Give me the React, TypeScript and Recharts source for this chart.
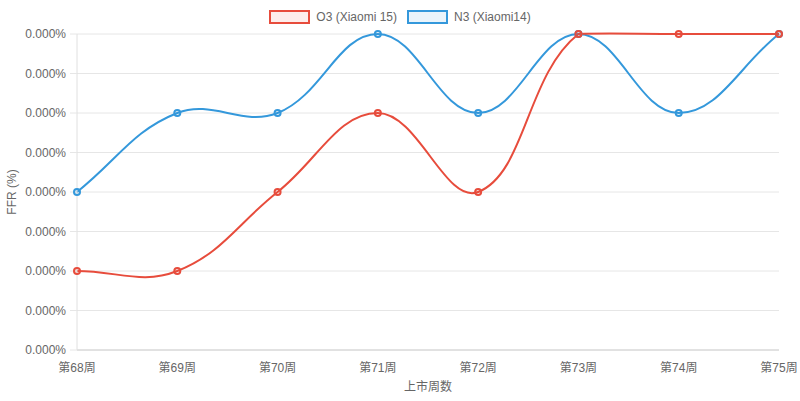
import React from 'react'
import { LineChart, Line, XAxis, YAxis, CartesianGrid, Legend, Label } from 'recharts'

// weeks since launch
const weeks = ['第68周', '第69周', '第70周', '第71周', '第72周', '第73周', '第74周', '第75周']

// FFR in percent (tiny values, all ticks round to 0.000%)
const o3Values = [0.0001, 0.0001, 0.0002, 0.0003, 0.0002, 0.0004, 0.0004, 0.0004]
const n3Values = [0.0002, 0.0003, 0.0003, 0.0004, 0.0003, 0.0004, 0.0003, 0.0004]

const yTicks = [0, 0.00005, 0.0001, 0.00015, 0.0002, 0.00025, 0.0003, 0.00035, 0.0004]

const RED = '#e74c3c'
const BLUE = '#3498db'
const FONT = '"Liberation Sans", Arial, Helvetica, "Noto Sans CJK SC", sans-serif'

// plot area bounds, used to cap the spline control points like Chart.js does
const PLOT_TOP = 33
const PLOT_BOTTOM = 350

const data = weeks.map((week, i) => ({ week, o3: o3Values[i], n3: n3Values[i] }))

// Chart.js-style spline (tension 0.4) as a d3 curve factory
const splineCurve = (tension: number, top: number, bottom: number) => (context: any) => {
  let pts: [number, number][] = []
  const cap = (y: number) => Math.min(bottom, Math.max(top, y))
  return {
    areaStart() {},
    areaEnd() {},
    lineStart() {
      pts = []
    },
    point(x: number, y: number) {
      pts.push([x, y])
    },
    lineEnd() {
      if (!pts.length) return
      const cps = pts.map((p, i) => {
        const prev = pts[i - 1] || p
        const next = pts[i + 1] || p
        const d01 = Math.hypot(p[0] - prev[0], p[1] - prev[1])
        const d12 = Math.hypot(next[0] - p[0], next[1] - p[1])
        let s01 = d01 / (d01 + d12)
        let s12 = d12 / (d01 + d12)
        if (isNaN(s01)) s01 = 0
        if (isNaN(s12)) s12 = 0
        const fa = tension * s01
        const fb = tension * s12
        return {
          px: p[0] - fa * (next[0] - prev[0]),
          py: cap(p[1] - fa * (next[1] - prev[1])),
          nx: p[0] + fb * (next[0] - prev[0]),
          ny: cap(p[1] + fb * (next[1] - prev[1])),
        }
      })
      context.moveTo(pts[0][0], pts[0][1])
      for (let i = 1; i < pts.length; i++) {
        context.bezierCurveTo(cps[i - 1].nx, cps[i - 1].ny, cps[i].px, cps[i].py, pts[i][0], pts[i][1])
      }
    },
  }
}

const curve = splineCurve(0.4, PLOT_TOP, PLOT_BOTTOM)

const legendItems = [
  { name: 'O3 (Xiaomi 15)', color: RED, fill: 'rgba(231, 76, 60, 0.1)' },
  { name: 'N3 (Xiaomi14)', color: BLUE, fill: 'rgba(52, 152, 219, 0.1)' },
]

const ChartLegend = () => (
  <div style={{ display: 'flex', justifyContent: 'center', gap: 10, fontSize: 12, color: '#666' }}>
    {legendItems.map((item) => (
      <div key={item.name} style={{ display: 'flex', alignItems: 'center' }}>
        <span
          style={{
            display: 'inline-block',
            width: 37,
            height: 10,
            border: `2px solid ${item.color}`,
            background: item.fill,
            marginRight: 6,
          }}
        />
        <span>{item.name}</span>
      </div>
    ))}
  </div>
)

const YTitle = ({ viewBox }: any) => (
  <text
    x={13}
    y={viewBox.y + viewBox.height / 2}
    transform={`rotate(-90, 13, ${viewBox.y + viewBox.height / 2})`}
    textAnchor="middle"
    dominantBaseline="middle"
    fontSize={12}
    fill="#666"
  >
    FFR (%)
  </text>
)

const XTitle = ({ viewBox }: any) => (
  <text
    x={viewBox.x + viewBox.width / 2}
    y={388}
    textAnchor="middle"
    dominantBaseline="middle"
    fontSize={12}
    fill="#666"
  >
    上市周数
  </text>
)

export default function App() {
  return (
    <div style={{ position: 'absolute', left: 0, top: 0, width: 800, height: 401, fontFamily: FONT }}>
      <LineChart width={800} height={401} data={data} margin={{ top: 20, right: 21, bottom: 21, left: 0 }}>
        <Legend
          verticalAlign="top"
          content={<ChartLegend />}
          wrapperStyle={{ top: 10, left: 0, width: 800 }}
        />
        <CartesianGrid vertical={false} stroke="#e6e6e6" />
        <XAxis
          dataKey="week"
          height={30}
          axisLine={{ stroke: '#d0d0d0' }}
          tickLine={false}
          tickSize={0}
          tickMargin={13}
          tick={{ fontSize: 12, fill: '#666' }}
          interval={0}
        >
          <Label content={<XTitle />} />
        </XAxis>
        <YAxis
          width={77}
          domain={[0, 0.0004]}
          ticks={yTicks}
          axisLine={{ stroke: '#e0e0e0' }}
          tickLine={{ stroke: '#e6e6e6' }}
          tickSize={7}
          tickMargin={4}
          tick={{ fontSize: 12, fill: '#666' }}
          tickFormatter={(v: number) => `${v.toFixed(3)}%`}
          interval={0}
        >
          <Label content={<YTitle />} />
        </YAxis>
        <Line
          dataKey="n3"
          name="N3 (Xiaomi14)"
          type={curve as any}
          stroke={BLUE}
          strokeWidth={2}
          dot={{ r: 3, strokeWidth: 2, stroke: BLUE, fill: 'rgba(52, 152, 219, 0.1)' }}
          activeDot={false}
          isAnimationActive={false}
        />
        <Line
          dataKey="o3"
          name="O3 (Xiaomi 15)"
          type={curve as any}
          stroke={RED}
          strokeWidth={2}
          dot={{ r: 3, strokeWidth: 2, stroke: RED, fill: 'rgba(231, 76, 60, 0.1)' }}
          activeDot={false}
          isAnimationActive={false}
        />
      </LineChart>
    </div>
  )
}
